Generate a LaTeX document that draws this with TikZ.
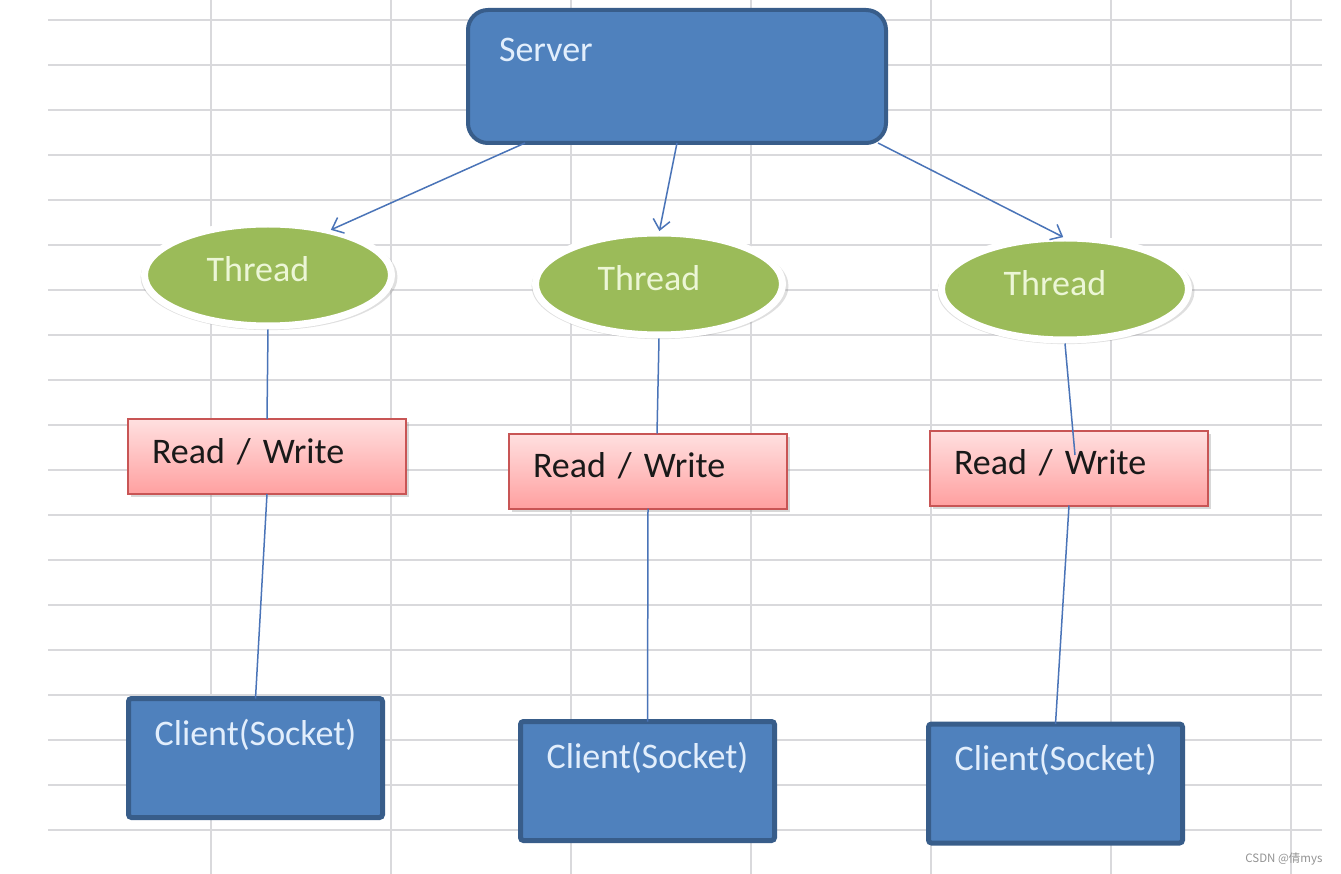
\documentclass[tikz,border=0pt]{standalone}
\usepackage{fontspec}
\setmainfont{Carlito}
\newfontfamily\cjk{Noto Sans CJK SC}
\usepackage{tikz}
\usetikzlibrary{positioning, shapes.geometric, shadows, arrows.meta}

\definecolor{boxblue}{RGB}{79,129,189}
\definecolor{boxedge}{RGB}{56,93,138}
\definecolor{boxtext}{RGB}{226,238,252}
\definecolor{threadgreen}{RGB}{155,187,89}
\definecolor{threadtext}{RGB}{236,246,214}
\definecolor{rwedge}{RGB}{200,85,85}
\definecolor{rwtop}{RGB}{255,224,224}
\definecolor{rwbottom}{RGB}{255,160,160}
\definecolor{linkblue}{RGB}{74,116,184}
\definecolor{gridgray}{RGB}{217,217,220}

\tikzset{
  server/.style={draw=boxedge, fill=boxblue, line width=4pt, rounded corners=20pt,
    inner xsep=31pt, inner ysep=0pt, outer sep=0pt, text width=356pt,
    text height=52pt, text depth=81pt, align=left, text=boxtext,
    font=\fontsize{36}{40}\selectfont},
  thread/.style={ellipse, draw=white, fill=threadgreen, line width=7pt,
    minimum width=247pt, minimum height=102pt, inner sep=0pt, outer sep=0pt,
    text height=25pt, text depth=11pt, text=threadtext,
    font=\fontsize{36}{40}\selectfont,
    execute at begin node={\hspace*{-20pt}},
    drop shadow={shadow xshift=1pt, shadow yshift=-2pt, shadow scale=1.04, opacity=0.25}},
  rwbox/.style={draw=rwedge, line width=2pt, top color=rwtop, bottom color=rwbottom,
    inner xsep=24pt, inner ysep=0pt, outer sep=0pt, text width=230pt,
    text height=44pt, text depth=31pt, align=left, text=black!90,
    font=\fontsize{36}{40}\selectfont,
    drop shadow={shadow xshift=3pt, shadow yshift=-3pt, opacity=0.3}},
  clientbox/.style={draw=boxedge, fill=boxblue, line width=5pt, rounded corners=3pt,
    inner xsep=5pt, inner ysep=0pt, outer sep=0pt, text width=244pt,
    text height=46.5pt, text depth=72.5pt, align=center, text=boxtext,
    font=\fontsize{36}{40}\selectfont},
  spawn/.style={draw=linkblue, line width=1.5pt,
    -{Straight Barb[length=10pt, width=17pt]}, shorten >=2pt},
  link/.style={draw=linkblue, line width=1.5pt},
  gridline/.style={draw=gridgray, line width=2pt}
}

\begin{document}
\begin{tikzpicture}[x=1pt, y=-1pt]

\fill[white] (0,0) rectangle (1341,874);
\useasboundingbox (0,0) rectangle (1341,874);

% sheet grid
\foreach \gy in {20,65,...,830} \draw[gridline] (48,\gy) -- (1322,\gy);
\foreach \gx in {211,391,...,1291} \draw[gridline] (\gx,0) -- (\gx,874);

% define nodes

\node[server] (server) at (677,76.5) {Server};

% threads
\node[thread, below=90pt of server, xshift=-18pt] (t2) {Thread};
\node[thread, left=144pt of t2, yshift=9pt] (t1) {Thread};
\node[thread, right=159pt of t2, yshift=-5pt] (t3) {Thread};

% read / write
\node[rwbox, below=93pt of t1, xshift=-1pt] (rw1) {Read / Write};
\node[rwbox, below=98.5pt of t2, xshift=-11pt] (rw2) {Read / Write};
\node[rwbox, below=90.5pt of t3, xshift=4pt] (rw3) {Read / Write};

% clients
\node[clientbox, below=204.5pt of rw1, xshift=-11.5pt] (c1) {Client(Socket)};
\node[clientbox, below=213pt of rw2, xshift=-0.5pt] (c2) {Client(Socket)};
\node[clientbox, below=218.5pt of rw3, xshift=-13.5pt] (c3) {Client(Socket)};

\node[anchor=base east, font=\cjk\fontsize{11.5}{12}\selectfont, text=gray!85] (mark) at (1326,862) {CSDN @倩mys};

% edges

\draw[spawn] ([xshift=57pt]server.south west) -- (t1.36);
\draw[spawn] (server.south) -- (t2.north);
\draw[spawn] ([xshift=-8pt]server.south east) -- (t3.north);

\draw[link] ([yshift=-3.5pt]t1.south) -- (rw1.north);
\draw[link] ([yshift=-3.5pt]t2.south) -- ([xshift=9pt]rw2.north);
\draw[link] ([yshift=-3.5pt]t3.south) -- ([xshift=6pt, yshift=13pt]rw3.center);

\draw[link] (rw1.south) -- (c1.north);
\draw[link] (rw2.south) -- (c2.north);
\draw[link] (rw3.south) -- (c3.north);

\end{tikzpicture}
\end{document}
